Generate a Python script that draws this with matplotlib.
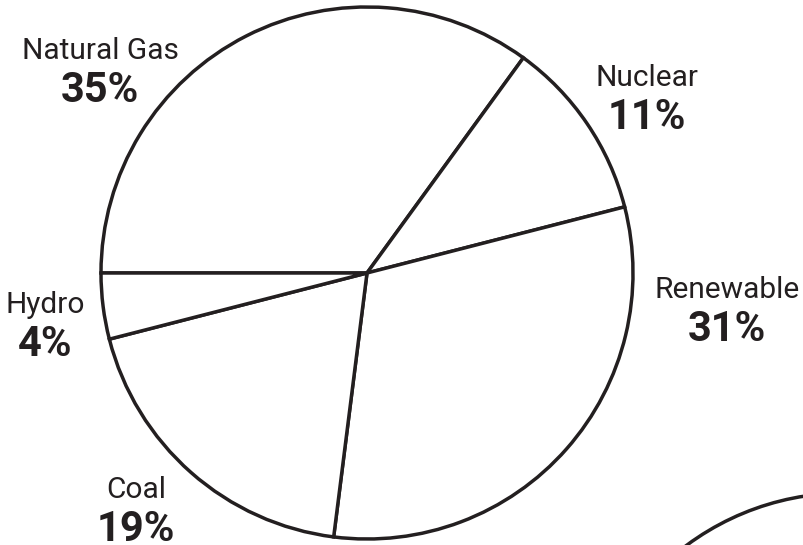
import matplotlib
matplotlib.use("Agg")
import matplotlib.pyplot as plt
from matplotlib.patches import Circle

# Data
categories = ["Natural Gas", "Nuclear", "Renewable", "Coal", "Hydro"]
shares = [35, 11, 31, 19, 4]
pct_labels = ["35%", "11%", "31%", "19%", "4%"]

W, H = 804, 545
INK = "#231f20"

fig = plt.figure(figsize=(W / 100, H / 100), dpi=100)
ax = fig.add_axes([0, 0, 1, 1])

cx, cy, r = 367, 273, 266
ax.pie(shares, startangle=180, counterclock=False,
       center=(cx, H - cy), radius=r,
       wedgeprops=dict(facecolor="white", edgecolor=INK, linewidth=2.5))

# partial second chart outline at bottom right
ax.add_patch(Circle((845, H - 759), 266, facecolor="white", edgecolor=INK, linewidth=2.5))

ax.set_xlim(0, W)
ax.set_ylim(0, H)
ax.set_aspect("auto")
ax.axis("off")

# label positions (center x, baseline y of name) in pixels from top
label_pos = {
    "Natural Gas": (100, 59),
    "Nuclear": (647, 86),
    "Renewable": (727, 298),
    "Coal": (136, 498),
    "Hydro": (45, 313),
}
for name, pct in zip(categories, pct_labels):
    x, y = label_pos[name]
    ax.text(x, H - y, name, ha="center", va="baseline", fontsize=21.5,
            family="Roboto", color=INK)
    ax.text(x, H - (y + 43), pct, ha="center", va="baseline", fontsize=30,
            family="Roboto", fontweight="bold", color=INK)

fig.savefig("out.png", dpi=100)
